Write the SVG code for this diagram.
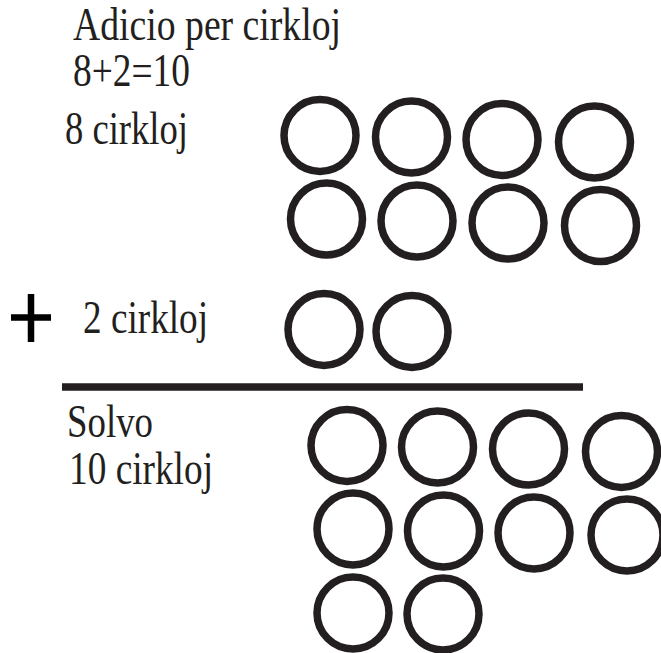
<svg xmlns="http://www.w3.org/2000/svg" width="661" height="653" viewBox="0 0 661 653">
<style>
.t{font-family:"Liberation Serif","Times New Roman",serif;font-size:46px;fill:#231f20}
.c{fill:none;stroke:#231f20;stroke-width:7.5}
</style>
<defs><circle id="o" r="36" class="c"/></defs>
<rect width="661" height="653" fill="#fff"/>
<g id="title">
<text class="t" x="73" y="39.5" font-size="44" textLength="268" lengthAdjust="spacingAndGlyphs">Adicio per cirkloj</text>
<text class="t" x="73" y="86" textLength="117" lengthAdjust="spacingAndGlyphs">8+2=10</text>
</g>
<g id="eight">
<text class="t" x="65" y="143.5" textLength="123" lengthAdjust="spacingAndGlyphs">8 cirkloj</text>
<use href="#o" x="320" y="135.5"/><use href="#o" x="411.5" y="137"/><use href="#o" x="502" y="139.5"/><use href="#o" x="594.5" y="142"/>
<use href="#o" x="326.5" y="219"/><use href="#o" x="417" y="221"/><use href="#o" x="508" y="223"/><use href="#o" x="600.5" y="225.5"/>
</g>
<g id="two">
<path d="M11 317.5H51M31 294V342" stroke="#000" stroke-width="6.5" fill="none"/>
<text class="t" x="83" y="332.5" textLength="125" lengthAdjust="spacingAndGlyphs">2 cirkloj</text>
<use href="#o" x="324" y="329.5"/><use href="#o" x="412" y="331.5"/>
</g>
<g id="rule">
<line x1="62" y1="387" x2="583" y2="387" stroke="#231f20" stroke-width="7.5"/>
</g>
<g id="sum">
<text class="t" x="67" y="436.5" textLength="86" lengthAdjust="spacingAndGlyphs">Solvo</text>
<text class="t" x="69" y="484" textLength="144" lengthAdjust="spacingAndGlyphs">10 cirkloj</text>
<use href="#o" x="347" y="445.5"/><use href="#o" x="437.5" y="447"/><use href="#o" x="528.5" y="449"/><use href="#o" x="621.5" y="451.5"/>
<use href="#o" x="353" y="529"/><use href="#o" x="443.5" y="531"/><use href="#o" x="534" y="533"/><use href="#o" x="627" y="535"/>
<use href="#o" x="353" y="613"/><use href="#o" x="443" y="614"/>
</g>
</svg>
